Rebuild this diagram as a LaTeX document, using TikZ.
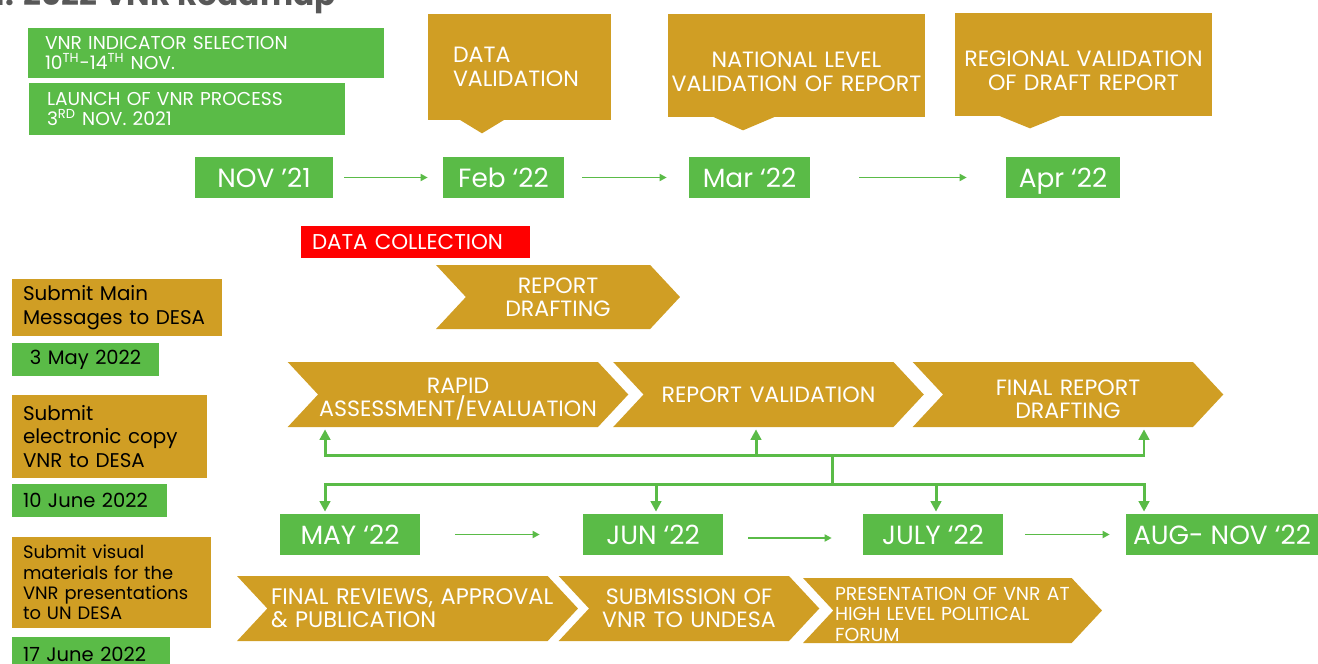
\documentclass[tikz,border=0pt]{standalone}
\usepackage{fontspec}
\setmainfont{Poppins}
\usetikzlibrary{arrows.meta,shapes.symbols}

\definecolor{vnrgold}{RGB}{208,158,36}
\definecolor{vnrgreen}{RGB}{90,187,71}
\definecolor{vnrred}{RGB}{255,0,0}
\definecolor{titlegray}{RGB}{88,88,88}

\tikzset{
  datebox/.style={fill=vnrgreen, text=white, minimum height=0.82cm, inner sep=0pt,
    text depth=0pt, font=\fontsize{15}{18}\selectfont},
  notebox/.style={fill=vnrgreen, text=white, inner ysep=0pt, align=left,
    font=\fontsize{10.6}{11.5}\selectfont},
  callbox/.style={fill=vnrgold, text=white, inner ysep=0pt, align=center,
    font=\fontsize{12.6}{13.6}\selectfont},
  chevron/.style={signal, signal from=west, signal to=east, signal pointer angle=94,
    fill=vnrgold, text=white, inner sep=0pt, minimum height=1.3cm, align=center,
    font=\fontsize{12.6}{13.2}\selectfont},
  sidebox/.style={fill=vnrgold, text=black, inner xsep=0.22cm, inner ysep=0pt, align=left,
    font=\fontsize{11.3}{13.6}\selectfont},
  sidedate/.style={sidebox, fill=vnrgreen, font=\fontsize{11.1}{13}\selectfont},
  datearrow/.style={draw=vnrgreen, line width=1.1pt, -{Triangle[length=4pt,width=4pt]}},
  link/.style={draw=vnrgreen, line width=1.7pt},
  linkarrow/.style={link, -{Triangle[length=6pt,width=6pt]}, shorten >=0.04cm},
}

\begin{document}
\begin{tikzpicture}[x=0.02cm, y=-0.02cm]
  \useasboundingbox (0,0) rectangle (1318,663);

  \node[anchor=base east, text=titlegray, font=\bfseries\fontsize{17.8}{20}\selectfont]
    (title) at (342,5.5) {Figure 1: 2022 VNR Roadmap};

  % first year
  \node[notebox, minimum width=7.12cm, minimum height=1.0cm, inner xsep=0.34cm, text width=6.44cm]
    (indsel) at (206,53) {VNR INDICATOR SELECTION\\10\textsuperscript{TH}-14\textsuperscript{TH} NOV.};
  \node[notebox, minimum width=6.32cm, minimum height=1.04cm, inner xsep=0.36cm, text width=5.6cm]
    (launch) at (187,109) {LAUNCH OF VNR PROCESS\\3\textsuperscript{RD} NOV. 2021};

  \node[callbox, minimum width=3.66cm, minimum height=2.12cm, inner xsep=0.5cm, text width=2.66cm,
    align=left] (dataval) at (519.5,67) {DATA\\VALIDATION};
  \fill[vnrgold] ([xshift=-1.21cm,yshift=0.02cm]dataval.south) -- ([xshift=-0.29cm,yshift=0.02cm]dataval.south)
    -- ([xshift=-0.75cm,yshift=-0.26cm]dataval.south) -- cycle;
  \node[callbox, minimum width=5.14cm, minimum height=2.06cm, inner xsep=0.05cm, text width=5.04cm,
    text height=16pt] (natval) at (796.5,65.5) {NATIONAL LEVEL\\VALIDATION OF REPORT};
  \fill[vnrgold] ([xshift=-1.69cm,yshift=0.02cm]natval.south) -- ([xshift=-0.41cm,yshift=0.02cm]natval.south)
    -- ([xshift=-1.07cm,yshift=-0.26cm]natval.south) -- cycle;
  \node[callbox, minimum width=5.14cm, minimum height=2.06cm, inner xsep=0.05cm, text width=5.04cm,
    text height=16pt] (regval) at (1083.5,64.5) {REGIONAL VALIDATION\\OF DRAFT REPORT};
  \fill[vnrgold] ([xshift=-1.71cm,yshift=0.02cm]regval.south) -- ([xshift=-0.43cm,yshift=0.02cm]regval.south)
    -- ([xshift=-1.07cm,yshift=-0.24cm]regval.south) -- cycle;

  \node[datebox, minimum width=2.76cm] (nov) at (264,177.5) {NOV ’21};
  \node[datebox, minimum width=2.42cm] (feb) at (503.5,177.5) {Feb ‘22};
  \node[datebox, minimum width=2.42cm] (mar) at (749.5,177.5) {Mar ‘22};
  \node[datebox, minimum width=2.28cm] (apr) at (1063,177.5) {Apr ‘22};
  \draw[datearrow, shorten <=0.22cm, shorten >=0.3cm] (nov) -- (feb);
  \draw[datearrow, shorten <=0.36cm, shorten >=0.44cm] (feb) -- (mar);
  \draw[datearrow, shorten <=0.98cm, shorten >=0.78cm] (mar) -- (apr);

  \node[notebox, fill=vnrred, minimum width=4.58cm, minimum height=0.64cm, inner xsep=0.22cm,
    text width=4.14cm, font=\fontsize{12.2}{13}\selectfont]
    (dcoll) at (415.5,242) {DATA COLLECTION};
  \node[chevron, minimum width=4.88cm, minimum height=1.28cm, text width=3cm]
    (rdraft) at (558,297) {REPORT\\DRAFTING};

  % phases
  \node[chevron, minimum width=6.8cm, text width=5.6cm, text height=14pt] (rapid) at (458,394.5)
    {RAPID\\ASSESSMENT/EVALUATION};
  \node[chevron, minimum width=6.18cm, text width=5cm] (repval) at (768.5,394.5)
    {REPORT VALIDATION};
  \node[chevron, minimum width=6.16cm, text width=5cm, text height=14pt] (finrep) at (1068,394.5)
    {FINAL REPORT\\DRAFTING};

  \coordinate (hubup) at (832,455);
  \coordinate (hubdn) at (832,484);
  \draw[link] (hubdn) -- (hubup);
  \draw[linkarrow] (hubup) -| ([xshift=-2.66cm]rapid.south);
  \draw[linkarrow] (hubup) -| ([xshift=-0.25cm]repval.south);
  \draw[linkarrow] (hubup) -| ([xshift=1.52cm]finrep.south);

  \node[datebox, minimum width=2.8cm] (may) at (350,534.5) {MAY ‘22};
  \node[datebox, minimum width=2.8cm] (jun) at (653,534.5) {JUN ‘22};
  \node[datebox, minimum width=2.8cm] (jul) at (933,534.5) {JULY ‘22};
  \node[datebox, minimum width=3.84cm] (aug) at (1222,534.5) {AUG- NOV ‘22};
  \draw[linkarrow] (hubdn) -| ([xshift=-0.5cm]may.north);
  \draw[linkarrow] (hubdn) -| ([xshift=0.06cm]jun.north);
  \draw[linkarrow] (hubdn) -| ([xshift=0.06cm]jul.north);
  \draw[linkarrow] (hubdn) -| ([xshift=-1.56cm]aug.north);
  \draw[datearrow, shorten <=0.7cm, shorten >=0.86cm] (may) -- (jun);
  \draw[datearrow, shorten <=0.5cm, shorten >=0.62cm] ([yshift=-0.07cm]jun.east) -- ([yshift=-0.07cm]jul.west);
  \draw[datearrow, shorten <=0.44cm, shorten >=0.32cm] (jul) -- (aug);

  \node[chevron, minimum width=6.82cm, text width=5.46cm, align=left,
    font=\fontsize{12.8}{13.2}\selectfont] (finrev) at (407.5,608.5)
    {\mbox{FINAL REVIEWS, APPROVAL}\\\& PUBLICATION};
  \node[chevron, minimum width=5.16cm, text width=4cm] (subm) at (689,608.5)
    {SUBMISSION OF\\VNR TO UNDESA};
  \node[chevron, minimum width=5.98cm, text width=4.7cm, align=left, text height=12pt,
    font=\fontsize{10.7}{11.6}\selectfont] (pres) at (952.5,610.5)
    {PRESENTATION OF VNR AT\\HIGH LEVEL POLITICAL\\FORUM};

  % deadlines
  \node[sidebox, minimum width=4.2cm, minimum height=1.14cm, text width=3.76cm]
    (smm) at (117,307.5) {Submit Main\\Messages to DESA};
  \node[sidedate, minimum width=2.94cm, minimum height=0.66cm, text width=2.5cm, align=center]
    (may3) at (85.5,359.5) {3 May 2022};
  \node[sidebox, minimum width=3.9cm, minimum height=1.66cm, text width=3.46cm]
    (sec) at (109.5,436.5) {Submit\\electronic copy\\VNR to DESA};
  \node[sidedate, minimum width=3.1cm, minimum height=0.66cm, text width=2.66cm]
    (jun10) at (89.5,500.5) {10 June 2022};
  \node[sidebox, minimum width=3.98cm, minimum height=1.82cm, text width=3.54cm,
    font=\fontsize{10.2}{11.6}\selectfont]
    (svm) at (111.5,582.5) {Submit visual\\materials for the\\VNR presentations\\to UN DESA};
  \node[sidedate, minimum width=3.16cm, minimum height=0.68cm, text width=2.72cm]
    (jun17) at (91,654) {17 June 2022};
\end{tikzpicture}
\end{document}
